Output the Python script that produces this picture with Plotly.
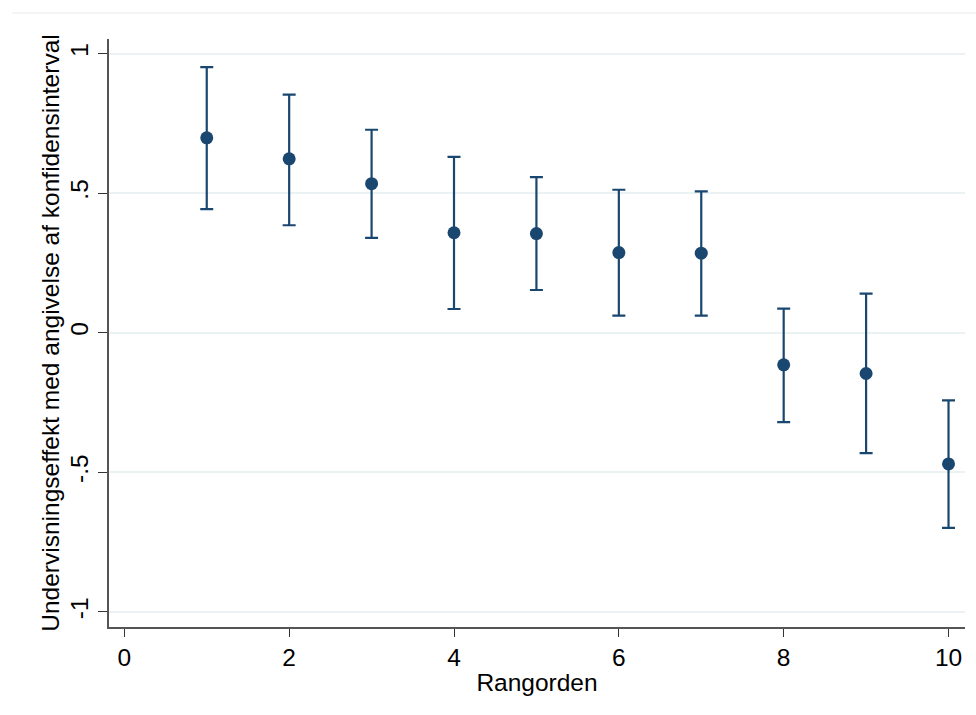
import plotly.graph_objects as go

rank = [1, 2, 3, 4, 5, 6, 7, 8, 9, 10]
estimate = [0.698, 0.623, 0.534, 0.358, 0.355, 0.287, 0.285, -0.115, -0.146, -0.470]
ci_upper = [0.951, 0.853, 0.727, 0.630, 0.557, 0.512, 0.506, 0.086, 0.140, -0.242]
ci_lower = [0.443, 0.385, 0.340, 0.085, 0.153, 0.061, 0.061, -0.320, -0.431, -0.699]
x_ticks = [0, 2, 4, 6, 8, 10]
y_ticks = [-1, -0.5, 0, 0.5, 1]
y_ticklabels = ["-1", "-.5", "0", ".5", "1"]

navy = "#1A476F"
err_plus = [u - e for u, e in zip(ci_upper, estimate)]
err_minus = [e - l for e, l in zip(estimate, ci_lower)]

fig = go.Figure()
fig.add_trace(go.Scatter(
    x=rank, y=estimate, mode="markers",
    marker=dict(color=navy, size=13, line=dict(width=0)),
    error_y=dict(type="data", symmetric=False, array=err_plus, arrayminus=err_minus,
                 color=navy, thickness=2.2, width=6.5),
    showlegend=False,
))

font = "Liberation Sans, Arial, sans-serif"
fs = 24.5
fig.update_layout(
    width=976, height=715,
    margin=dict(l=109, r=11, t=39, b=88),
    paper_bgcolor="white", plot_bgcolor="white",
    font=dict(family=font, color="black", size=fs),
    xaxis=dict(
        range=[-0.186, 10.2], tickvals=x_ticks, ticks="outside", ticklen=8,
        tickwidth=1.3, tickcolor="#333", showline=True, linecolor="#555", linewidth=1.6,
        showgrid=False, zeroline=False, tickfont=dict(size=fs),
        title=dict(text="Rangorden", font=dict(size=fs), standoff=4),
    ),
    yaxis=dict(
        range=[-1.054, 1.052], tickvals=y_ticks, ticktext=y_ticklabels, tickangle=-90,
        ticks="outside", ticklen=9, tickwidth=1.3, tickcolor="#333",
        showline=True, linecolor="#555", linewidth=1.6,
        showgrid=True, gridcolor="#EAF2F3", gridwidth=2.2, zeroline=False,
        tickfont=dict(size=fs),
        title=dict(text="Undervisningseffekt med angivelse af konfidensinterval",
                   font=dict(size=fs), standoff=0),
    ),
    shapes=[dict(type="line", xref="paper", yref="paper", x0=-0.113, x1=1.013,
                 y0=1.0442, y1=1.0442, line=dict(color="#EEF0F2", width=1.5))],
)

fig.write_html("out.html")
